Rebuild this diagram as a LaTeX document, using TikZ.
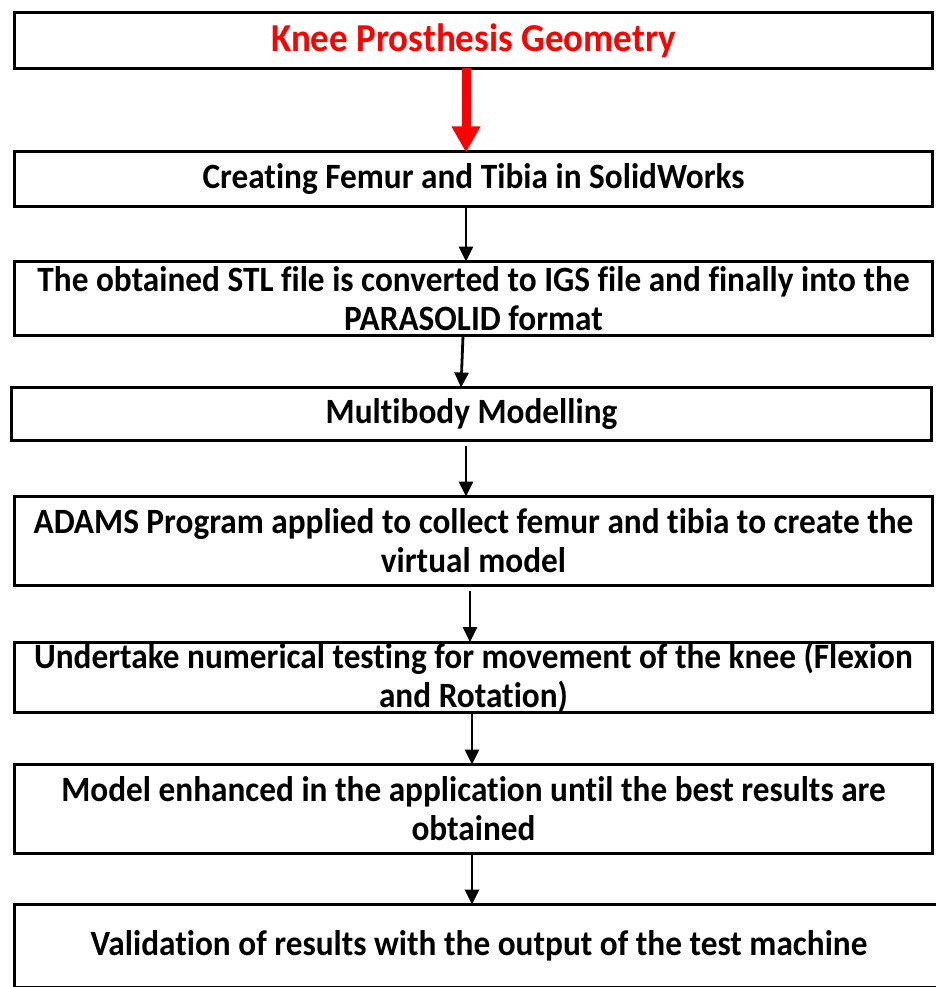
\documentclass[tikz,border=0pt]{standalone}
\usepackage{fontspec}
\setmainfont{Carlito}
\newfontfamily\boxfont[FakeStretch=0.935, Ligatures=NoCommon]{Carlito}
\usetikzlibrary{arrows.meta}
\begin{document}
\begin{tikzpicture}[x=1pt,y=-1pt,
  box/.style={draw=black, line width=3pt, fill=white, rectangle, inner sep=0pt, outer sep=0pt,
    align=center, font=\boxfont\fontsize{35.6}{39}\selectfont\bfseries},
  titlebox/.style={box, text=red, font=\boxfont\fontsize{39.6}{42}\selectfont\bfseries},
  flow/.style={draw=black, line width=2.8pt, -{Triangle[width=14pt,length=15pt]}},
  redflow/.style={draw=red, line width=9pt, -{Triangle[width=27pt,length=26pt]}}]
\useasboundingbox (0,0) rectangle (936,987);
\begin{scope}
\clip (0,0) rectangle (936,987);
\node[titlebox, minimum width=918pt, minimum height=56pt] (b1) at (473.5,40.5) {Knee Prosthesis Geometry};
\node[box, minimum width=918pt, minimum height=55pt] (b2) at (473.5,179) {Creating Femur and Tibia in SolidWorks};
\node[box, minimum width=918pt, minimum height=74pt] (b3) at (473.5,298.5) {The obtained STL file is converted to IGS file and finally into the\\PARASOLID format};
\node[box, minimum width=920pt, minimum height=53pt] (b4) at (471.5,414) {Multibody Modelling};
\node[box, minimum width=918pt, minimum height=89pt] (b5) at (473.5,541) {ADAMS Program applied to collect femur and tibia to create the\\virtual model};
\node[box, minimum width=918pt, minimum height=70pt] (b6) at (473.5,677.5) {Undertake numerical testing for movement of the knee (Flexion\\and Rotation)};
\node[box, minimum width=918pt, minimum height=89pt] (b7) at (473.5,809) {Model enhanced in the application until the best results are\\obtained};
\node[box, minimum width=929pt, minimum height=83pt] (b8) at (479,946) {Validation of results with the output of the test machine};
\end{scope}
\draw[redflow] ([xshift=-7.5pt]b1.south) -- ([xshift=-7.5pt,yshift=-1pt]b2.north);
\draw[flow] ([xshift=-7.5pt]b2.south) -- ([xshift=-7.5pt]b3.north);
\draw[flow] ([xshift=-10.5pt]b3.south) -- ([xshift=-10.5pt]b4.north);
\draw[flow, shorten <=5pt] ([xshift=-5.5pt]b4.south) -- ([xshift=-7.5pt]b5.north);
\draw[flow, shorten <=5pt] ([xshift=-3.5pt]b5.south) -- ([xshift=-3.5pt]b6.north);
\draw[flow] ([xshift=-1.5pt]b6.south) -- ([xshift=-1.5pt]b7.north);
\draw[flow] ([xshift=-1.5pt]b7.south) -- ([xshift=-7pt]b8.north);
\end{tikzpicture}
\end{document}
